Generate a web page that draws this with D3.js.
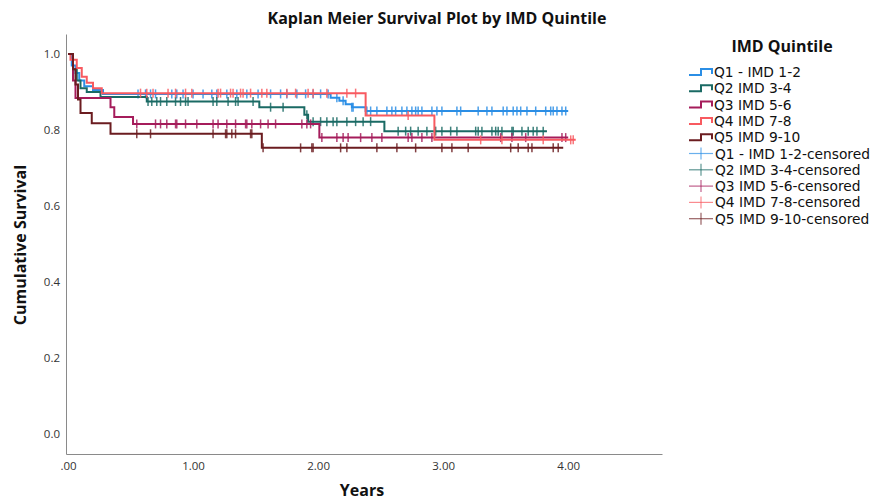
<!DOCTYPE html>
<html>
<head>
<meta charset="utf-8">
<script src="https://d3js.org/d3.v7.min.js"></script>
<style>
  body { margin: 0; background: #fff; }
  text { font-family: "Open Sans", "DejaVu Sans", sans-serif; }
  .tick-label { font-size: 11.5px; fill: #333; }
  .axis-title { font-size: 16px; font-weight: 700; fill: #111; }
  .legend-text { font-family: "DejaVu Sans", sans-serif; font-size: 13.8px; fill: #111; }
</style>
</head>
<body>
<div id="chart"></div>
<script>
// Kaplan-Meier curves, values
const groups = ["Q1 - IMD 1-2", "Q2 IMD 3-4", "Q3 IMD 5-6", "Q4 IMD 7-8", "Q5 IMD 9-10"];
const colors = ["#2b8ee5", "#1a6a64", "#a51c5b", "#f85a60", "#6b1c20"];

const q1Times = [0, 0.03, 0.06, 0.09, 0.13, 0.2, 0.28, 2.10, 2.17, 2.22, 2.27, 2.38];
const q1Surv  = [1, 0.97, 0.95, 0.93, 0.915, 0.905, 0.895, 0.885, 0.877, 0.868, 0.86, 0.85];
const q1End = 4.0;
const q1Censor = [0.56, 0.62, 0.66, 0.70, 0.83, 0.87, 0.92, 1.0, 1.08, 1.15, 1.19, 1.27, 1.35, 1.43,
  1.52, 1.62, 1.70, 1.75, 1.83, 1.90, 1.96, 2.02, 2.08, 2.15, 2.20, 2.27, 2.28, 2.39, 2.42, 2.47, 2.55,
  2.59, 2.62, 2.67, 2.71, 2.75, 2.78, 2.80, 2.83, 2.91, 2.95, 2.99, 3.11, 3.14, 3.28, 3.35, 3.39, 3.48,
  3.51, 3.56, 3.59, 3.62, 3.67, 3.74, 3.82, 3.86, 3.88, 3.91, 3.95, 3.98];

const q2Times = [0, 0.04, 0.07, 0.1, 0.15, 0.26, 0.63, 1.53, 1.89, 1.92, 2.53];
const q2Surv  = [1, 0.96, 0.93, 0.91, 0.90, 0.887, 0.875, 0.86, 0.84, 0.822, 0.797];
const q2End = 3.83;
const q2Censor = [0.64, 0.67, 0.71, 0.74, 0.79, 0.86, 0.90, 0.94, 0.96, 1.16, 1.19, 1.28, 1.34, 1.36,
  1.48, 1.62, 1.72, 1.91, 1.96, 2.02, 2.07, 2.12, 2.15, 2.23, 2.30, 2.36, 2.42, 2.64, 2.70, 2.74, 2.80,
  2.87, 2.94, 2.99, 3.06, 3.11, 3.26, 3.28, 3.31, 3.39, 3.42, 3.44, 3.47, 3.55, 3.56, 3.63, 3.68, 3.72,
  3.75, 3.80];

const q3Times = [0, 0.04, 0.06, 0.34, 0.37, 0.52, 2.01];
const q3Surv  = [1, 0.93, 0.884, 0.86, 0.834, 0.816, 0.78];
const q3End = 4.0;
const q3Censor = [0.55, 0.70, 0.74, 0.79, 0.86, 0.87, 0.94, 1.03, 1.16, 1.20, 1.27, 1.34, 1.42, 1.43,
  1.47, 1.54, 1.60, 1.66, 1.87, 1.91, 1.94, 2.03, 2.15, 2.20, 2.24, 2.34, 2.43, 2.51, 2.72, 2.75, 2.83,
  2.91, 3.46, 3.55, 3.66, 3.95, 3.98];

const q4Times = [0, 0.02, 0.07, 0.11, 0.15, 0.2, 0.27, 2.38, 2.93];
const q4Surv  = [1, 0.985, 0.963, 0.94, 0.924, 0.91, 0.897, 0.838, 0.774];
const q4End = 4.06;
const q4Censor = [0.58, 0.63, 0.68, 0.80, 0.86, 0.94, 0.99, 1.20, 1.22, 1.30, 1.32, 1.38, 1.40, 1.46,
  1.55, 1.59, 1.75, 1.82, 1.92, 1.96, 2.07, 2.23, 2.30, 2.72, 3.30, 3.47, 3.80, 4.02, 4.04];

const q5Times = [0, 0.04, 0.06, 0.08, 0.1, 0.19, 0.34, 1.55];
const q5Surv  = [1, 0.96, 0.92, 0.88, 0.845, 0.818, 0.79, 0.753];
const q5End = 3.96;
const q5Censor = [0.55, 0.66, 1.16, 1.26, 1.27, 1.31, 1.34, 1.46, 1.47, 1.56, 1.86, 1.95, 1.96, 2.18,
  2.23, 2.47, 2.63, 2.78, 2.99, 3.07, 3.20, 3.54, 3.60, 3.68, 3.71, 3.88, 3.92];

const xTicks = [0, 1, 2, 3, 4];
const yTicks = [0, 0.2, 0.4, 0.6, 0.8, 1.0];

const series = [
  { times: q1Times, surv: q1Surv, end: q1End, censor: q1Censor },
  { times: q2Times, surv: q2Surv, end: q2End, censor: q2Censor },
  { times: q3Times, surv: q3Surv, end: q3End, censor: q3Censor },
  { times: q4Times, surv: q4Surv, end: q4End, censor: q4Censor },
  { times: q5Times, surv: q5Surv, end: q5End, censor: q5Censor }
];

const width = 875, height = 502;
const svg = d3.select("#chart").append("svg")
  .attr("width", width)
  .attr("height", height);

// plot area: left axis at 66, bottom axis at 454
const x = d3.scaleLinear().domain([-0.016, 4.75]).range([66, 662]);
const y = d3.scaleLinear().domain([-0.0526, 1.0526]).range([454, 34]);

// title
svg.append("text")
  .attr("x", 437).attr("y", 24)
  .attr("text-anchor", "middle")
  .style("font-size", "16px").style("font-weight", 700).style("fill", "#111")
  .text("Kaplan Meier Survival Plot by IMD Quintile");

// axes (no tick marks, just labels)
const xAxis = svg.append("g")
  .attr("transform", `translate(0, ${y.range()[0]})`)
  .call(d3.axisBottom(x).tickValues(xTicks).tickSize(0).tickPadding(8)
    .tickFormat(d => d === 0 ? ".00" : d3.format(".2f")(d)));
const yAxis = svg.append("g")
  .attr("transform", `translate(${x.range()[0]}, 0)`)
  .call(d3.axisLeft(y).tickValues(yTicks).tickSize(0).tickPadding(6)
    .tickFormat(d3.format(".1f")));

[xAxis, yAxis].forEach(g => {
  g.select(".domain").attr("stroke", "#8a8a8a").attr("stroke-width", 1);
  g.selectAll("text").attr("class", "tick-label").attr("font-family", null).attr("font-size", null);
});

svg.append("text")
  .attr("class", "axis-title")
  .attr("x", 362).attr("y", 496)
  .attr("text-anchor", "middle")
  .text("Years");

svg.append("text")
  .attr("class", "axis-title")
  .attr("transform", "translate(26, 245) rotate(-90)")
  .attr("text-anchor", "middle")
  .text("Cumulative Survival");

// step curves
const line = d3.line()
  .x(d => x(d[0]))
  .y(d => y(d[1]))
  .curve(d3.curveStepAfter);

function survAt(s, t) {
  let v = s.surv[0];
  for (let i = 0; i < s.times.length; i++) {
    if (s.times[i] <= t) v = s.surv[i];
  }
  return v;
}

series.forEach((s, i) => {
  const pts = s.times.map((t, j) => [t, s.surv[j]]);
  pts.push([s.end, s.surv[s.surv.length - 1]]);

  svg.append("path")
    .datum(pts)
    .attr("fill", "none")
    .attr("stroke", colors[i])
    .attr("stroke-width", 2)
    .attr("d", line);

  svg.append("g")
    .selectAll("line")
    .data(s.censor)
    .join("line")
    .attr("x1", d => x(d))
    .attr("x2", d => x(d))
    .attr("y1", d => y(survAt(s, d)) - 4.5)
    .attr("y2", d => y(survAt(s, d)) + 4.5)
    .attr("stroke", colors[i])
    .attr("stroke-opacity", 0.85)
    .attr("stroke-width", 1.5);
});

// legend
const legend = svg.append("g");
legend.append("text")
  .attr("x", 782).attr("y", 52)
  .attr("text-anchor", "middle")
  .style("font-size", "16px").style("font-weight", 700).style("fill", "#111")
  .text("IMD Quintile");

const rowY = i => 72 + i * 16.3;

groups.forEach((g, i) => {
  const yy = rowY(i);
  legend.append("path")
    .attr("d", `M689,${yy + 3}H701V${yy - 3}H712V${yy + 2}`)
    .attr("fill", "none")
    .attr("stroke", colors[i])
    .attr("stroke-width", 2);
  legend.append("text")
    .attr("class", "legend-text")
    .attr("x", 714).attr("y", yy + 5)
    .text(g);
});

groups.forEach((g, i) => {
  const yy = rowY(i + 5);
  legend.append("line")
    .attr("x1", 689).attr("x2", 713).attr("y1", yy).attr("y2", yy)
    .attr("stroke", colors[i]).attr("stroke-opacity", 0.7).attr("stroke-width", 1.2);
  legend.append("line")
    .attr("x1", 701).attr("x2", 701).attr("y1", yy - 6).attr("y2", yy + 6)
    .attr("stroke", colors[i]).attr("stroke-opacity", 0.7).attr("stroke-width", 1.2);
  legend.append("text")
    .attr("class", "legend-text")
    .attr("x", 715).attr("y", yy + 5)
    .text(g + "-censored");
});
</script>
</body>
</html>
